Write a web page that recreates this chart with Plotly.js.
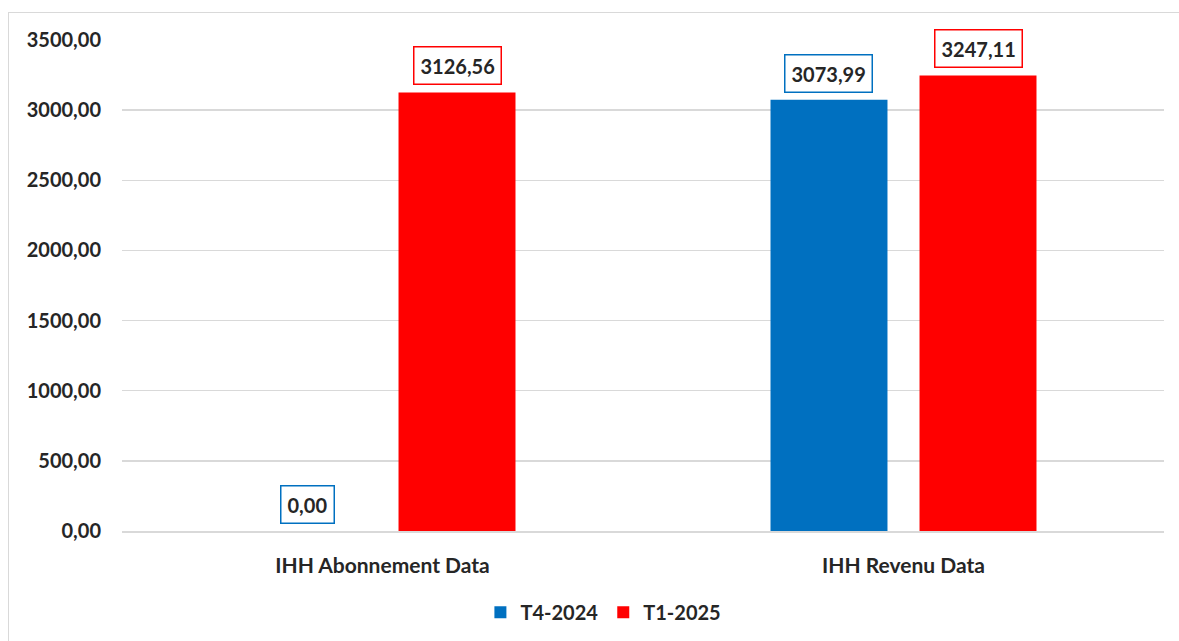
<!DOCTYPE html>
<html>
<head>
<meta charset="utf-8">
<script src="https://cdn.plot.ly/plotly-3.0.1.min.js"></script>
<style>
  html, body { margin: 0; padding: 0; overflow: hidden; background: #fff; }
  #frame { position: absolute; left: 8px; top: 12px; width: 1300px; height: 800px; border: 1px solid #d9d9d9; }
  #chart { position: absolute; left: 0; top: 0; width: 1179px; height: 641px; }
</style>
</head>
<body>
<div id="frame"></div>
<div id="chart"></div>
<script>
const categories = ["IHH Abonnement Data", "IHH Revenu Data"];
const seriesNames = ["T4-2024", "T1-2025"];
const t4_2024 = [0.00, 3073.99];
const t1_2025 = [3126.56, 3247.11];
const seriesColors = ["#0070C0", "#FF0000"];
const yTicks = [0, 500, 1000, 1500, 2000, 2500, 3000, 3500];

const allValues = [t4_2024, t1_2025];
const fontFam = "Lato, 'Open Sans', sans-serif";
const textColor = "#262626";

const margin = {l: 122, r: 15, t: 40, b: 110};
const W = 1179, H = 641;
const bargap = 0.428, bargroupgap = 0.215;
const plotW = W - margin.l - margin.r;
const catW = plotW / categories.length;
const slotW = catW * (1 - bargap) / allValues.length;

const fmt = v => v.toFixed(2).replace('.', ',');

const traces = allValues.map((vals, i) => ({
  type: 'bar',
  name: seriesNames[i],
  x: categories,
  y: vals,
  marker: {color: seriesColors[i]},
  hoverinfo: 'skip'
}));

const annotations = [];
allValues.forEach((vals, i) => {
  const shift = (i - (allValues.length - 1) / 2) * slotW;
  vals.forEach((v, j) => {
    annotations.push({
      x: categories[j], y: v, xref: 'x', yref: 'y',
      xshift: shift, yshift: 7,
      yanchor: 'bottom',
      text: fmt(v),
      showarrow: false,
      font: {family: fontFam, size: 20, color: textColor, weight: 'bold'},
      bordercolor: seriesColors[i], borderwidth: 1.5, borderpad: 6,
      bgcolor: '#ffffff'
    });
  });
});

const layout = {
  width: W, height: H,
  margin: margin,
  paper_bgcolor: 'rgba(0,0,0,0)',
  plot_bgcolor: 'rgba(0,0,0,0)',
  separators: ', ',
  barmode: 'group',
  bargap: bargap,
  bargroupgap: bargroupgap,
  showlegend: true,
  legend: {
    orientation: 'h', x: 0.462, xanchor: 'center',
    yref: 'container', y: 0.045, yanchor: 'middle',
    font: {family: fontFam, size: 20, color: textColor, weight: 'bold'},
    itemwidth: 30, traceorder: 'normal'
  },
  xaxis: {
    type: 'category', automargin: false,
    showline: true, linecolor: '#d9d9d9', linewidth: 1.5,
    ticks: '', ticklabelstandoff: 15,
    tickfont: {family: fontFam, size: 21, color: textColor, weight: 'bold'},
    fixedrange: true
  },
  yaxis: {
    range: [0, 3500], automargin: false,
    tickvals: yTicks,
    ticktext: yTicks.map(fmt),
    showgrid: true, gridcolor: '#d9d9d9', gridwidth: 1.5,
    zeroline: false, showline: false, ticks: '',
    ticklabelstandoff: 20,
    tickfont: {family: fontFam, size: 20, color: textColor, weight: 'bold'},
    fixedrange: true
  },
  annotations: annotations
};

Plotly.newPlot('chart', traces, layout, {displayModeBar: false, staticPlot: true});
</script>
</body>
</html>
